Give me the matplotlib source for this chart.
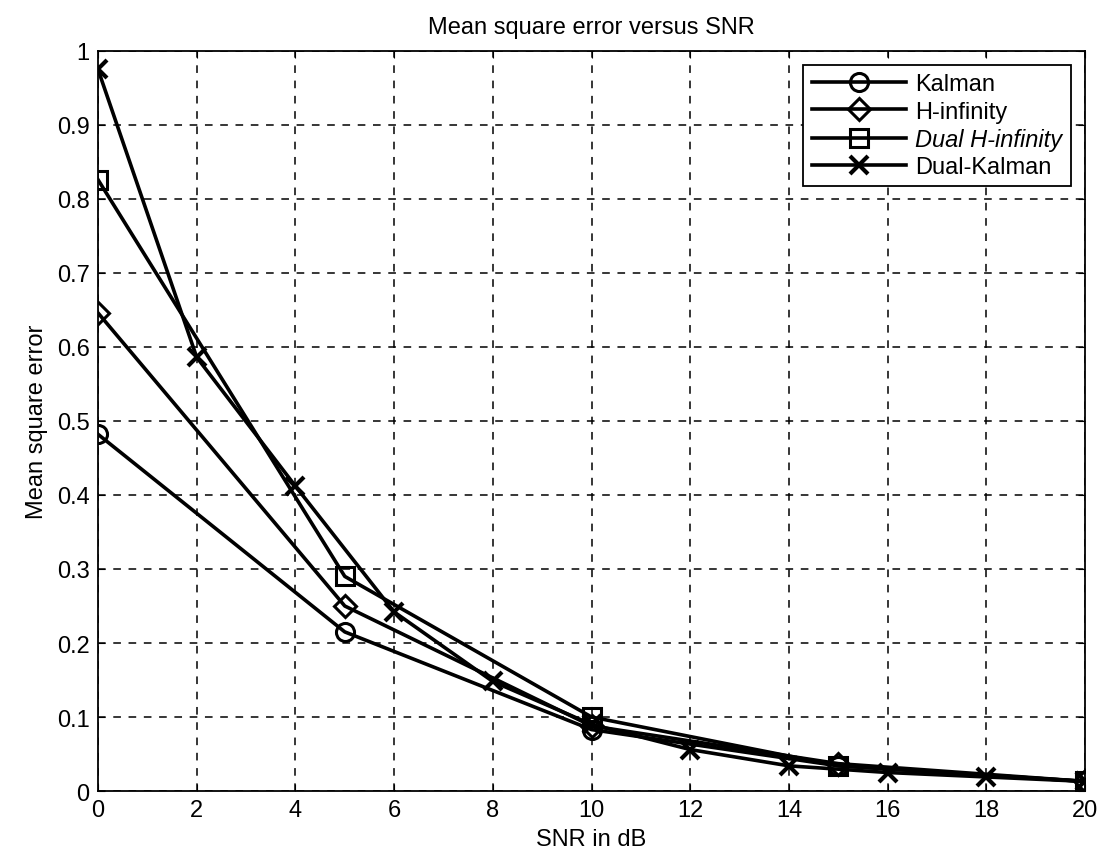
import numpy as np
import matplotlib
matplotlib.use('Agg')
import matplotlib.pyplot as plt

plt.rcParams['font.family'] = ['Liberation Sans', 'DejaVu Sans']

# Data
snr_coarse = [0, 5, 10, 15, 20]
kalman = [0.482, 0.215, 0.083, 0.034, 0.013]
h_inf = [0.646, 0.250, 0.088, 0.037, 0.013]
dual_h_inf = [0.826, 0.290, 0.100, 0.034, 0.013]

snr_fine = [0, 2, 4, 6, 8, 10, 12, 14, 16, 18, 20]
dual_kalman = [0.975, 0.586, 0.412, 0.242, 0.148, 0.090, 0.056, 0.034, 0.025, 0.019, 0.013]

x_ticks = list(range(0, 21, 2))
y_ticks = [0, 0.1, 0.2, 0.3, 0.4, 0.5, 0.6, 0.7, 0.8, 0.9, 1]
y_tick_labels = ['0', '0.1', '0.2', '0.3', '0.4', '0.5', '0.6', '0.7', '0.8', '0.9', '1']

fig = plt.figure(figsize=(11.04, 8.62), dpi=100)
ax = fig.add_axes([0.0888, 0.0812, 0.894, 0.8585])

style = dict(color='black', lw=2.6, ms=13, mew=2.2, mfc='none')
ax.plot(snr_coarse, kalman, marker='o', label='Kalman', **style)
ax.plot(snr_coarse, h_inf, marker='D', label='H-infinity', **dict(style, ms=11))
ax.plot(snr_coarse, dual_h_inf, marker='s', label='Dual H-infinity', **style)
ax.plot(snr_fine, dual_kalman, marker='x', label='Dual-Kalman', **dict(style, mew=3))

ax.set_xlim(0, 20)
ax.set_ylim(0, 1)
ax.set_xticks(x_ticks)
ax.set_yticks(y_ticks)
ax.set_yticklabels(y_tick_labels)
ax.tick_params(direction='in', length=5, labelsize=17, colors='black', pad=6,
               top=True, right=True)
ax.grid(True, color='black', linestyle=(0, (5, 5)), lw=1.1)
for sp in ax.spines.values():
    sp.set_linewidth(1.3)

ax.set_xlabel('SNR in dB', fontsize=17, labelpad=5)
ax.set_ylabel('Mean square error', fontsize=17, labelpad=6)
ax.set_title('Mean square error versus SNR', fontsize=17, pad=13)

leg = ax.legend(loc='upper right', fontsize=17, frameon=True, fancybox=False,
                edgecolor='black', framealpha=1, handlelength=4.0,
                borderaxespad=0.6, borderpad=0.35, labelspacing=0.22,
                handletextpad=0.4)
leg.get_frame().set_linewidth(1.3)
leg.get_texts()[2].set_style('italic')

fig.savefig('out.png', dpi=100)
